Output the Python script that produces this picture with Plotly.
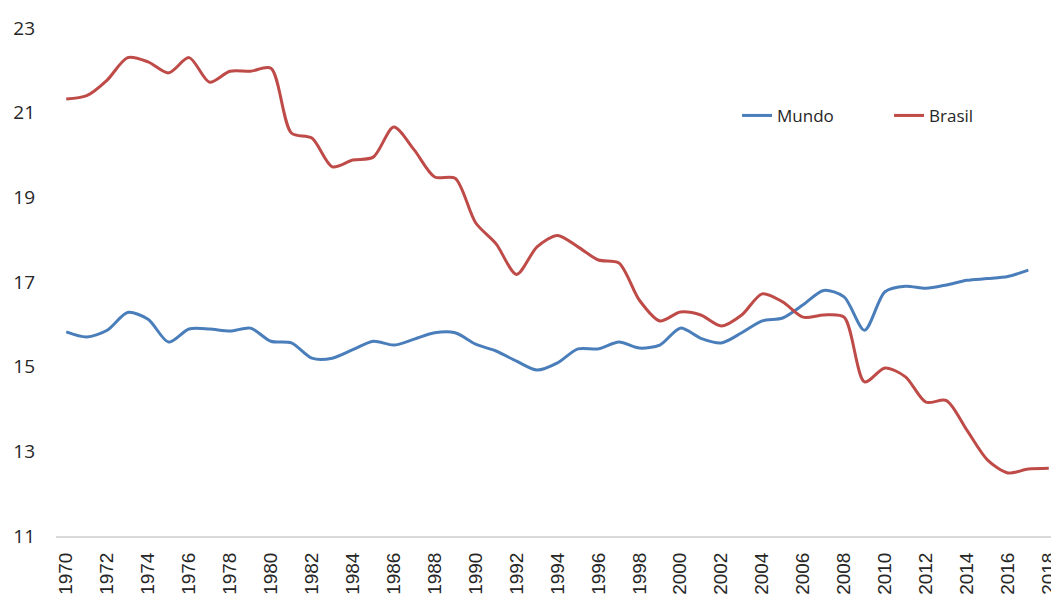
import plotly.graph_objects as go

# anos e séries
anos = list(range(1970, 2019))

mundo = [15.82, 15.70, 15.86, 16.28, 16.12, 15.58, 15.89, 15.89, 15.84, 15.91,
         15.60, 15.56, 15.20, 15.20, 15.40, 15.60, 15.51, 15.65, 15.80, 15.80,
         15.53, 15.37, 15.13, 14.92, 15.09, 15.42, 15.42, 15.58, 15.44, 15.51,
         15.91, 15.67, 15.56, 15.80, 16.08, 16.15, 16.46, 16.80, 16.65, 15.86,
         16.77, 16.90, 16.85, 16.93, 17.04, 17.08, 17.13, 17.28, None]

brasil = [21.32, 21.40, 21.77, 22.30, 22.20, 21.94, 22.30, 21.72, 21.98, 21.98,
          22.05, 20.52, 20.40, 19.72, 19.88, 19.95, 20.66, 20.12, 19.48, 19.45,
          18.40, 17.90, 17.18, 17.83, 18.10, 17.83, 17.52, 17.45, 16.57, 16.08,
          16.29, 16.22, 15.96, 16.22, 16.72, 16.53, 16.17, 16.22, 16.17, 14.64,
          14.97, 14.76, 14.16, 14.20, 13.50, 12.80, 12.49, 12.58, 12.60]

ticks_x = list(range(1970, 2019, 2))
ticks_y = [11, 13, 15, 17, 19, 21, 23]

fig = go.Figure()
fig.add_trace(go.Scatter(x=anos, y=mundo, name="Mundo", mode="lines",
                         line=dict(color="#4A7EBB", width=3, shape="spline", smoothing=0.8)))
fig.add_trace(go.Scatter(x=anos, y=brasil, name="Brasil", mode="lines",
                         line=dict(color="#BE4B48", width=3, shape="spline", smoothing=0.8)))

# a página tem 8px de margem no body, por isso a figura é um pouco menor
fig.update_layout(
    width=1051, height=587,
    margin=dict(l=48, r=0, t=20, b=59),
    plot_bgcolor="white", paper_bgcolor="white",
    font=dict(family="Open Sans, Liberation Sans, sans-serif", size=17, color="#262626"),
    legend=dict(orientation="h", x=0.679, y=0.827, xanchor="left", yanchor="middle",
                font=dict(size=17), entrywidth=107, entrywidthmode="pixels",
                bgcolor="rgba(0,0,0,0)"),
    showlegend=True,
)
fig.update_xaxes(range=[1969.5, 2018.5], tickvals=ticks_x, ticktext=[str(t) for t in ticks_x],
                 tickangle=-90, showgrid=False, zeroline=False, automargin=False,
                 showline=True, linecolor="#D9D9D9", linewidth=2, ticks="",
                 ticklabelstandoff=7,
                 tickfont=dict(family="Liberation Sans, Arial, sans-serif", size=19, color="#262626"))
fig.update_yaxes(range=[11, 23], tickvals=ticks_y, showgrid=False, zeroline=False,
                 showline=False, ticks="", automargin=False, ticklabelstandoff=20,
                 tickfont=dict(size=19, color="#262626"))

fig.write_html("out.html")
